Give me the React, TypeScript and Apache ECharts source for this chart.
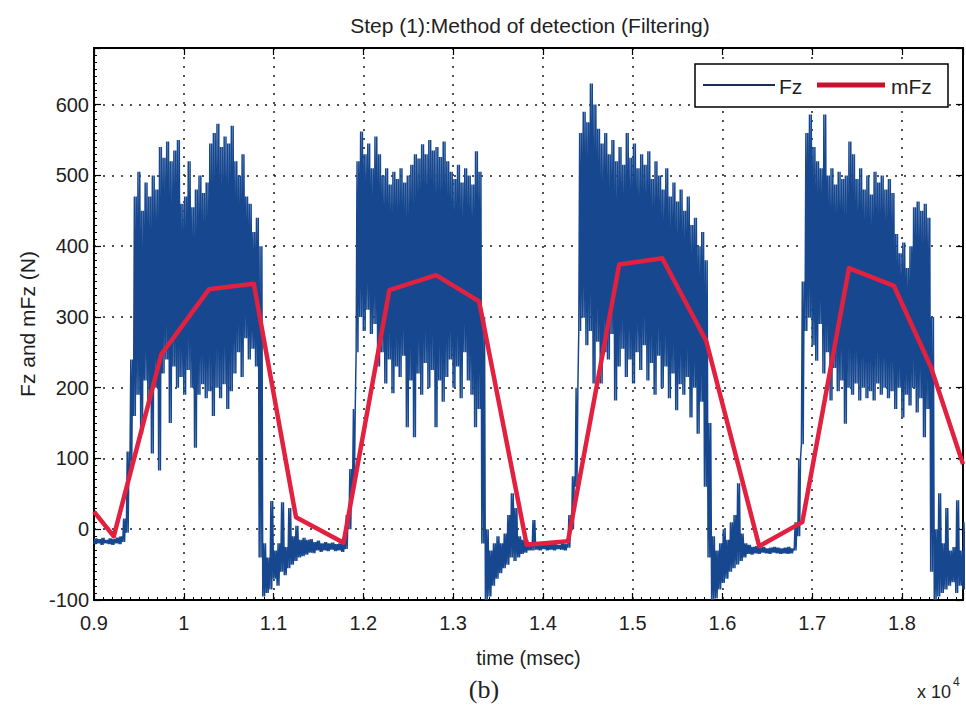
import React, { useEffect, useRef } from "react";
import * as echarts from "echarts";

// Fz signal: regular sampling bins (msec) with the low / high value reached in each bin
const fzStartMs = 9000;
const fzStepMs = 40;
const fzLow = [
  -21, -20, -22, -20, -21, -22, -20, -21, -18, -5,
  85, 160, 190, 135, 210, 180, 107, 200, 83, 220,
  240, 150, 230, 200, 215, 190, 225, 200, 115, 190,
  205, 185, 195, 160, 200, 185, 205, 170, 195, 220,
  250, 215, 270, 240, 255, 230, -40, -95, -90, -85,
  -70, -80, -60, -65, -55, -50, -45, -40, -38, -36,
  -33, -34, -30, -32, -30, -31, -29, -31, -30, -32,
  -28, 0, 60, 250, 300, 280, 310, 276, 290, 230,
  250, 206, 240, 192, 230, 215, 245, 144, 210, 130,
  220, 190, 235, 200, 225, 144, 210, 180, 215, 240,
  200, 230, 185, 250, 210, 190, 144, 170, -20, -100,
  -95, -80, -70, -62, -55, -50, -40, -45, -40, -35,
  -33, -30, -30, -29, -30, -28, -30, -29, -30, -28,
  -29, -30, -26, 0, 60, 280, 299, 260, 280, 206,
  265, 206, 250, 240, 276, 182, 230, 255, 215, 240,
  206, 250, 225, 260, 210, 235, 190, 245, 200, 230,
  185, 220, 168, 205, 190, 215, 158, 200, 135, 180,
  60, -40, -100, -98, -85, -76, -70, -60, -55, -50,
  -45, -40, -35, -36, -34, -35, -33, -34, -35, -33,
  -34, -35, -34, -35, -34, -30, -10, 120, 280, 299,
  260, 238, 290, 220, 250, 182, 228, 195, 210, 149,
  200, 190, 206, 182, 200, 185, 195, 182, 206, 190,
  200, 185, 195, 170, 200, 158, 190, 175, 200, 165,
  185, 130, 170, -60, -100, -95, -90, -85, -80, -75,
  -90, -80, -85,
];
const fzHigh = [
  -13, -14, -12, -15, -13, -14, -12, -10, 15, 110,
  240, 470, 505, 450, 490, 470, 500, 480, 540, 525,
  548, 520, 535, 550, 460, 470, 520, 455, 480, 500,
  475, 490, 545, 560, 573, 540, 555, 545, 570, 520,
  500, 530, 470, 460, 420, 440, 400, -20, -40, 40,
  -30, -20, 38, -25, 30, -10, 5, -15, -12, -15,
  -14, -18, -16, -20, -18, -20, -19, -21, -20, -19,
  20, 85, 170, 520, 562, 530, 545, 510, 555, 530,
  500, 510, 487, 505, 495, 510, 490, 500, 515, 530,
  524, 544, 530, 550, 535, 540, 526, 548, 520, 505,
  495, 515, 490, 510, 500, 487, 534, 505, 300, 0,
  -30, -20, -10, -20, -6, 20, 51, 30, -10, -15,
  -15, -18, 13, -20, -22, -21, -22, -20, -21, -22,
  -20, -21, 20, 75, 200, 560, 590, 575, 630, 600,
  566, 545, 560, 530, 550, 520, 540, 515, 560, 525,
  545, 510, 530, 515, 534, 495, 520, 500, 480, 510,
  470, 490, 463, 480, 450, 470, 430, 440, 400, 420,
  380, 150, -10, -30, -20, 0, -15, 10, 20, 65,
  -6, -20, -22, -25, -24, -26, -25, -27, -26, -25,
  -26, -27, -26, -25, -27, 10, 100, 350, 560, 586,
  540, 520, 510, 586, 500, 510, 487, 505, 495, 500,
  548, 530, 495, 510, 480, 500, 473, 505, 490, 500,
  480, 495, 475, 417, 390, 405, 369, 400, 455, 463,
  450, 460, 440, 300, 0, 51, -20, 30, -30, -25,
  41, -30, 10,
];

// mFz: filtered curve vertices
const mfzTime = [9000, 9220, 9750, 10280, 10780, 11250, 11780, 12290, 12810, 13290, 13820, 14280, 14850, 15330, 15820, 16410, 16890, 17410, 17910, 18320, 18680];
const mfzValue = [25, -10, 247, 339, 347, 17, -19, 338, 359, 322, -22, -17, 374, 383, 266, -24, 10, 369, 344, 230, 92];

const xMin = 9000;
const xMax = 18680;
const xStep = 1000;
const yMin = -100;
const yMax = 680;
const yStep = 100;

const titleText = "Step (1):Method of detection (Filtering)";
const xName = "time (msec)";
const yName = "Fz and mFz (N)";
const seriesNames = ["Fz", "mFz"];

const sans = "'Liberation Sans', Arial, Helvetica, sans-serif";

export default function App() {
  const ref = useRef<HTMLDivElement>(null);

  useEffect(() => {
    if (!ref.current) return;
    const chart = echarts.init(ref.current, null, { renderer: "svg" });

    // each bin is drawn as the raw signal swinging between its low and high twice
    const fzData: [number, number][] = [];
    const q = fzStepMs / 4;
    fzLow.forEach((lo, i) => {
      const t = fzStartMs + i * fzStepMs;
      const hi = fzHigh[i];
      fzData.push([t, lo], [t + q, hi], [t + 2 * q, lo], [t + 3 * q, hi]);
    });
    const mfzData = mfzTime.map((t, i) => [t, mfzValue[i]]);

    const dotted = { color: "#1a1a1a", width: 1.5, type: [2, 7] as number[] };
    const labelStyle = { color: "#1e1e1e", fontSize: 20, fontFamily: sans };
    const frameLine = { show: true, onZero: false, lineStyle: { color: "#000", width: 1.8 } };
    const majorTick = { show: true, inside: true, length: 7, lineStyle: { color: "#000", width: 1.2 } };

    chart.setOption({
      animation: false,
      backgroundColor: "#fff",
      title: {
        text: titleText,
        left: 525,
        top: 10,
        textAlign: "center",
        textStyle: { fontSize: 21, fontWeight: "normal", color: "#222", fontFamily: sans },
      },
      grid: {
        left: 94,
        right: 3,
        top: 48,
        bottom: 113,
        show: true,
        borderColor: "#000",
        borderWidth: 1.5,
        backgroundColor: "#fff",
      },
      xAxis: [
        {
          type: "value",
          min: xMin,
          max: xMax,
          interval: xStep,
          position: "bottom",
          name: xName,
          nameLocation: "middle",
          nameGap: 48,
          nameTextStyle: { ...labelStyle },
          axisLine: frameLine,
          axisTick: majorTick,
          minorTick: { show: true, splitNumber: 10, length: 3, lineStyle: { color: "#000" } },
          splitLine: { show: true, lineStyle: dotted },
          axisLabel: {
            ...labelStyle,
            margin: 13,
            showMaxLabel: false,
            formatter: (v: number) => String(v / 10000),
          },
        },
        {
          type: "value",
          min: xMin,
          max: xMax,
          interval: xStep,
          position: "top",
          axisLine: frameLine,
          axisTick: majorTick,
          axisLabel: { show: false },
          splitLine: { show: false },
        },
      ],
      yAxis: [
        {
          type: "value",
          min: yMin,
          max: yMax,
          interval: yStep,
          position: "left",
          name: yName,
          nameLocation: "middle",
          nameGap: 56,
          nameRotate: 90,
          nameTextStyle: { ...labelStyle, fontSize: 21 },
          axisLine: frameLine,
          axisTick: majorTick,
          minorTick: { show: true, splitNumber: 10, length: 3, lineStyle: { color: "#000" } },
          splitLine: { show: true, lineStyle: dotted },
          axisLabel: { ...labelStyle, margin: 5, showMaxLabel: false },
        },
        {
          type: "value",
          min: yMin,
          max: yMax,
          interval: yStep,
          position: "right",
          axisLine: frameLine,
          axisTick: majorTick,
          axisLabel: { show: false },
          splitLine: { show: false },
        },
      ],
      series: [
        {
          name: seriesNames[0],
          type: "line",
          data: fzData,
          showSymbol: false,
          silent: true,
          clip: true,
          lineStyle: { color: "#17488f", width: 1.5 },
          z: 2,
        },
        {
          name: seriesNames[1],
          type: "line",
          data: mfzData,
          showSymbol: false,
          silent: true,
          clip: true,
          lineStyle: { color: "#e2203f", width: 4.5, join: "round" },
          z: 3,
        },
      ],
      graphic: [
        {
          type: "rect",
          shape: { x: 695, y: 64, width: 253, height: 43 },
          style: { fill: "#fff", stroke: "#000", lineWidth: 1.5 },
          z: 100,
        },
        {
          type: "line",
          shape: { x1: 703, y1: 85, x2: 775, y2: 85 },
          style: { stroke: "#1b2d5e", lineWidth: 2 },
          z: 101,
        },
        {
          type: "text",
          x: 779,
          y: 86,
          style: { text: seriesNames[0], fontSize: 21, fontFamily: sans, fill: "#222", textVerticalAlign: "middle" },
          z: 101,
        },
        {
          type: "line",
          shape: { x1: 817, y1: 85, x2: 885, y2: 85 },
          style: { stroke: "#c8122e", lineWidth: 5 },
          z: 101,
        },
        {
          type: "text",
          x: 891,
          y: 86,
          style: { text: seriesNames[1], fontSize: 21, fontFamily: sans, fill: "#222", textVerticalAlign: "middle" },
          z: 101,
        },
        {
          type: "text",
          x: 917,
          y: 692,
          style: { text: "x 10", fontSize: 18, fontFamily: sans, fill: "#222", textVerticalAlign: "middle" },
        },
        {
          type: "text",
          x: 953,
          y: 682,
          style: { text: "4", fontSize: 12, fontFamily: sans, fill: "#222", textVerticalAlign: "middle" },
        },
        {
          type: "text",
          x: 484,
          y: 689,
          style: {
            text: "(b)",
            fontSize: 26,
            fontFamily: "'Liberation Serif', 'DejaVu Serif', serif",
            fill: "#222",
            textAlign: "center",
            textVerticalAlign: "middle",
          },
        },
      ],
    });

    return () => chart.dispose();
  }, []);

  return (
    <div
      ref={ref}
      style={{ position: "fixed", left: 0, top: 0, width: 966, height: 713, background: "#fff" }}
    />
  );
}
